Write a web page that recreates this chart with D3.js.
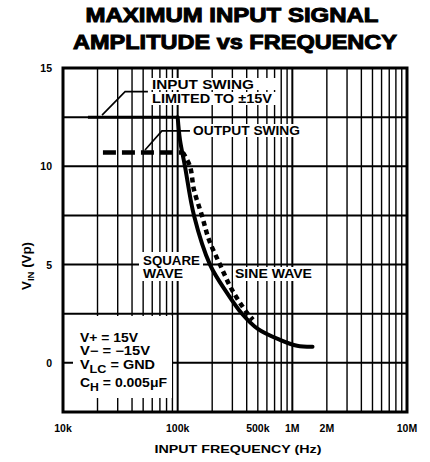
<!DOCTYPE html>
<html><head><meta charset="utf-8">
<script src="https://cdn.jsdelivr.net/npm/d3@7"></script>
<style>body{margin:0;background:#fff}svg{display:block}</style>
</head><body>
<script>
// ---- data ----
const xTickValues = [1e4, 1e5, 5e5, 1e6, 2e6, 1e7];
const xTickLabels = ["10k", "100k", "500k", "1M", "2M", "10M"];
const yTickValues = [0, 5, 10, 15];
const yGridValues = [0, 2.5, 5, 7.5, 10, 12.5, 15];
const inputSwingF = [16500, 100000];
const inputSwingV = [12.5, 12.5];
const outputSwingF = [22300, 111000];
const outputSwingV = [10.7, 10.7];
const squareF = [100000, 104800, 115800, 138800, 191400, 270000, 363900, 500000, 780000, 1100000, 1500000];
const squareV = [12.5, 11.34, 10.0, 7.5, 5.0, 3.55, 2.5, 1.73, 1.17, 0.87, 0.82];
const sineF = [111000, 128000, 138800, 163000, 187500, 234000, 298000, 403000, 454000];
const sineV = [10.7, 10.0, 8.8, 7.48, 6.26, 5.0, 3.71, 2.54, 2.19];
const inputLeaderF = [21900, 34800, 55000];
const inputLeaderV = [12.6, 13.8, 13.8];
const outputLeaderF = [51900, 72900, 128000];
const outputLeaderV = [10.83, 11.8, 11.8];

const W = 430, H = 462;
const svg = d3.select("body").append("svg").attr("width", W).attr("height", H);
svg.append("rect").attr("width", W).attr("height", H).attr("fill", "#fff");

const x = d3.scaleLog().domain([1e4, 1e7]).range([63, 407]);
const y = d3.scaleLinear().domain([-2.5, 15]).range([412, 68]);
const FONT = "'Liberation Sans', Arial, sans-serif";

// title
const title = svg.append("g").attr("font-family", FONT).attr("font-weight", 900)
  .attr("text-anchor", "middle").attr("fill", "#000").attr("stroke", "#000").attr("stroke-width", 1);
title.append("text").attr("x", 232).attr("y", 22).attr("font-size", 20.5)
  .attr("textLength", 293).attr("lengthAdjust", "spacingAndGlyphs").text("MAXIMUM INPUT SIGNAL");
title.append("text").attr("x", 235).attr("y", 49).attr("font-size", 20.5)
  .attr("textLength", 324).attr("lengthAdjust", "spacingAndGlyphs").text("AMPLITUDE vs FREQUENCY");

// grid
const minor = [];
for (let d = 1e4; d < 1e7; d *= 10) for (let m = 1; m <= 9; m++) minor.push(d * m);
minor.push(1e7);
const grid = svg.append("g");
grid.selectAll("line.v").data(minor).join("line")
  .attr("x1", d => x(d)).attr("x2", d => x(d)).attr("y1", y(15)).attr("y2", y(-2.5))
  .attr("stroke", "#000").attr("stroke-width", d => (Math.abs(Math.log10(d) % 1) < 1e-9) ? 2 : 1.4);
grid.selectAll("line.h").data(yGridValues).join("line")
  .attr("x1", x(1e4)).attr("x2", x(1e7)).attr("y1", d => y(d)).attr("y2", d => y(d))
  .attr("stroke", "#000").attr("stroke-width", 2);

// white label backgrounds (covering grid)
const bg = svg.append("g").attr("fill", "#fff");
[[150, 78, 126, 12], [150, 92, 126, 13], [186, 124, 117, 13], [139, 252, 64, 29], [233, 267, 82, 14], [73, 316, 99, 82]]
  .forEach(r => bg.append("rect").attr("x", r[0]).attr("y", r[1]).attr("width", r[2]).attr("height", r[3]));

// frame
svg.append("rect").attr("x", x(1e4)).attr("y", y(15)).attr("width", x(1e7) - x(1e4)).attr("height", y(-2.5) - y(15))
  .attr("fill", "none").attr("stroke", "#000").attr("stroke-width", 3);

// axes tick labels
const axG = svg.append("g").attr("font-family", FONT).attr("font-weight", "bold").attr("font-size", 10.5).attr("fill", "#000");
axG.selectAll("text.y").data(yTickValues).join("text")
  .attr("x", 52).attr("y", d => y(d) + 4).attr("text-anchor", "end").text(d => d);
axG.selectAll("text.x").data(xTickValues).join("text")
  .attr("x", d => x(d)).attr("y", 432).attr("text-anchor", "middle").text((d, i) => xTickLabels[i]);
axG.append("text").attr("x", 238).attr("y", 453).attr("text-anchor", "middle").attr("font-size", 11)
  .attr("textLength", 167).attr("lengthAdjust", "spacingAndGlyphs").text("INPUT FREQUENCY (Hz)");
const yt = axG.append("text").attr("transform", "translate(31,266) rotate(-90)").attr("text-anchor", "middle").attr("font-size", 12.5)
  .attr("textLength", 48).attr("lengthAdjust", "spacingAndGlyphs");
yt.append("tspan").text("V");
yt.append("tspan").attr("font-size", 9).attr("dy", 3).text("IN");
yt.append("tspan").attr("dy", -3).text(" (Vp)");

// series
const pts = (F, V) => F.map((f, i) => [f, V[i]]);
const line = d3.line().x(d => x(d[0])).y(d => y(d[1]));
const curve = d3.line().x(d => x(d[0])).y(d => y(d[1])).curve(d3.curveCatmullRom.alpha(0.5));

svg.append("path").attr("d", line(pts(inputSwingF, inputSwingV)))
  .attr("fill", "none").attr("stroke", "#000").attr("stroke-width", 3);
svg.append("path").attr("d", line(pts(outputSwingF, outputSwingV)))
  .attr("fill", "none").attr("stroke", "#000").attr("stroke-width", 4.5).attr("stroke-dasharray", "13,6");
svg.append("path").attr("d", curve(pts(sineF, sineV)))
  .attr("fill", "none").attr("stroke", "#000").attr("stroke-width", 4.5).attr("stroke-dasharray", "5,4");
svg.append("path").attr("d", curve(pts(squareF, squareV)))
  .attr("fill", "none").attr("stroke", "#000").attr("stroke-width", 4).attr("stroke-linecap", "round");

// leaders
svg.append("path").attr("d", line(pts(inputLeaderF, inputLeaderV)))
  .attr("fill", "none").attr("stroke", "#000").attr("stroke-width", 1.6);
svg.append("path").attr("d", line(pts(outputLeaderF, outputLeaderV)))
  .attr("fill", "none").attr("stroke", "#000").attr("stroke-width", 1.6);

// annotations
const ann = svg.append("g").attr("font-family", FONT).attr("font-weight", "bold").attr("font-size", 12).attr("fill", "#000");
const label = (g, tx, ty, s, len) => g.append("text").attr("x", tx).attr("y", ty)
  .attr("textLength", len).attr("lengthAdjust", "spacingAndGlyphs").text(s);
label(ann, 152, 89, "INPUT SWING", 102);
label(ann, 152, 103, "LIMITED TO ±15V", 120);
label(ann, 193, 135, "OUTPUT SWING", 107);
label(ann, 143, 265, "SQUARE", 57);
label(ann, 143, 278, "WAVE", 40);
label(ann, 235, 278, "SINE WAVE", 77);

const leg = svg.append("g").attr("font-family", FONT).attr("font-weight", "bold").attr("font-size", 12).attr("fill", "#000");
label(leg, 80, 342, "V+ = 15V", 58);
label(leg, 80, 355, "V− = −15V", 70);
const t3 = leg.append("text").attr("x", 80).attr("y", 369).attr("textLength", 75).attr("lengthAdjust", "spacingAndGlyphs");
t3.append("tspan").text("V");
t3.append("tspan").attr("dy", 4).attr("font-size", 10.5).text("LC");
t3.append("tspan").attr("dy", -4).text(" = GND");
const t4 = leg.append("text").attr("x", 80).attr("y", 387).attr("textLength", 87).attr("lengthAdjust", "spacingAndGlyphs");
t4.append("tspan").text("C");
t4.append("tspan").attr("dy", 4).attr("font-size", 10.5).text("H");
t4.append("tspan").attr("dy", -4).text(" = 0.005μF");
</script>
</body></html>
